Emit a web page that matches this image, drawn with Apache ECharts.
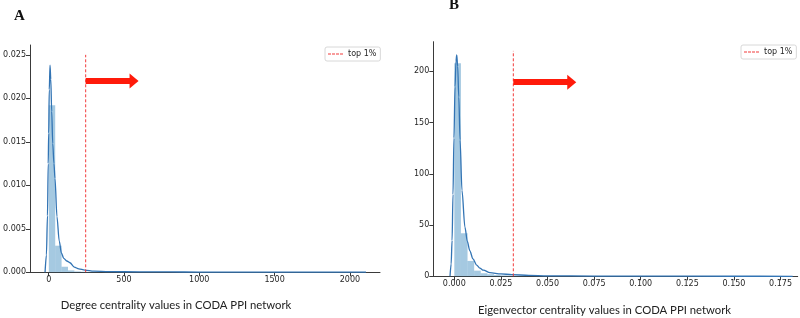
<!DOCTYPE html>
<html>
<head>
<meta charset="utf-8">
<script src="https://cdn.jsdelivr.net/npm/echarts@6/dist/echarts.min.js"></script>
<style>
  html, body { margin: 0; padding: 0; background: #fff; }
  #chart { width: 800px; height: 318px; }
</style>
</head>
<body>
<div id="chart"></div>
<script>
// panel A: degree centrality (density histogram + kde)
const degreeBinStart = 1;
const degreeBinWidth = 42.4;
const degreeHist = [0.0192, 0.00306, 0.00064, 0.00022, 0.0001, 0.00006, 0.00004, 0.00003, 0.00002, 0.00002,
    0.00001, 0.00001, 0.00001, 0.00001, 0.00001];
const degreeKdeX = [-24, -15, -8, -3, 0, 4, 9, 14, 20, 27, 35, 42, 55, 70, 85, 100, 120, 141, 170, 200, 240, 300, 400, 600, 800, 1000, 1500, 2000, 2107];
const degreeKdeY = [0, 0.002, 0.0065, 0.0125, 0.016, 0.021, 0.0238, 0.0222, 0.0185, 0.0148, 0.0125, 0.0108, 0.0064, 0.0036, 0.0022, 0.0016, 0.0013, 0.0011, 0.0006, 0.0004, 0.00026, 0.00014, 0.00008, 0.00005, 0.00004, 0.00003, 0.00002, 0.00002, 0.00001];
const degreeTop1 = 245.7;
const degreeTicks = [0, 500, 1000, 1500, 2000];

// panel B: eigenvector centrality
const eigenBinStart = 0;
const eigenBinWidth = 0.00355;
const eigenHist = [208, 42, 15, 5.5, 3, 2, 1.3, 0.9, 0.6, 0.4, 0.3, 0.2, 0.2, 0.1, 0.1];
const eigenKdeX = [-0.0023, -0.0017, -0.0012, -0.0007, -0.0002, 0.0004, 0.0009, 0.0013, 0.0018, 0.0024, 0.0031, 0.0041, 0.0057, 0.0070, 0.0083, 0.010, 0.012, 0.0137, 0.0156, 0.0191, 0.025, 0.0308, 0.04, 0.05, 0.075, 0.1, 0.15, 0.1815];
const eigenKdeY = [0, 12, 35, 80, 135, 185, 210, 216, 205, 175, 133, 84, 48, 34, 25, 17, 11, 8, 6, 3.5, 2.4, 1.6, 0.9, 0.5, 0.25, 0.12, 0.05, 0.02];
const eigenTop1 = 0.03165;
const eigenTicks = [0, 0.025, 0.05, 0.075, 0.1, 0.125, 0.15, 0.175];

// arrows: [x start, x end, y]
const arrowA = [245.7, 567, 0.022];
const arrowB = [0.03165, 0.0630, 189.5];

const legendText = 'top 1%';

function histData(start, width, vals) {
    return vals.map((v, i) => [start + i * width, start + (i + 1) * width, v]);
}
function zip(xs, ys) {
    return xs.map((x, i) => [x, ys[i]]);
}
function renderBin(params, api) {
    const p0 = api.coord([api.value(0), api.value(2)]);
    const p1 = api.coord([api.value(1), 0]);
    return {
        type: 'rect',
        shape: { x: p0[0], y: p0[1], width: p1[0] - p0[0], height: p1[1] - p0[1] },
        style: { fill: 'rgba(31,119,180,0.4)' }
    };
}

const axisColor = '#3a3a3a';
const cutRed = '#f23a3a';
const tickFont = { fontFamily: 'DejaVu Sans', fontSize: 8, color: '#262626' };
// four short dashes for the legend key
const dashIcon = 'path://M0,0h3v1h-3zM4,0h3v1h-3zM8,0h3v1h-3zM12,0h3v1h-3z';

function xAxisOpt(idx, min, max, ticks, fmt) {
    return {
        type: 'value', gridIndex: idx, min: min, max: max,
        axisLine: { onZero: false, lineStyle: { color: axisColor, width: 1 } },
        axisTick: { show: true, length: 4, customValues: ticks, lineStyle: { color: axisColor } },
        axisLabel: Object.assign({ customValues: ticks, margin: 4, formatter: fmt }, tickFont),
        splitLine: { show: false }
    };
}
function yAxisOpt(idx, max, interval, fmt) {
    return {
        type: 'value', gridIndex: idx, min: 0, max: max, interval: interval,
        axisLine: { show: true, onZero: false, lineStyle: { color: axisColor, width: 1 } },
        axisTick: { show: true, length: 4, lineStyle: { color: axisColor } },
        axisLabel: Object.assign({ margin: 4, formatter: fmt, showMaxLabel: false }, tickFont),
        splitLine: { show: false }
    };
}
function legendOpt(seriesName, left, top) {
    return {
        left: left, top: top, data: [seriesName], icon: dashIcon, itemWidth: 15, itemHeight: 1, itemGap: 5,
        formatter: () => legendText,
        itemStyle: { color: cutRed, borderWidth: 0 }, inactiveColor: cutRed,
        padding: [3, 4, 3, 3], backgroundColor: '#fff', borderColor: '#d8d8d8', borderWidth: 1, borderRadius: 2,
        textStyle: { fontFamily: 'DejaVu Sans', fontSize: 8, color: '#262626' }, selectedMode: false
    };
}
function arrowLine(arrow) {
    return {
        silent: true,
        symbol: ['none', 'triangle'],
        symbolSize: [15, 9],
        label: { show: false },
        lineStyle: { color: '#ff1a0a', width: 6, type: 'solid' },
        data: [[{ coord: [arrow[0], arrow[2]] }, { coord: [arrow[1], arrow[2]] }]]
    };
}

const chart = echarts.init(document.getElementById('chart'), null, { renderer: 'canvas' });

const option = {
    animation: false,
    backgroundColor: '#fff',
    grid: [
        { left: 30, top: 45, width: 350, bottom: 45.7 },
        { left: 433.3, top: 41.7, right: 2.3, bottom: 41.7 }
    ],
    xAxis: [
        xAxisOpt(0, -124, 2200, degreeTicks, v => String(v)),
        xAxisOpt(1, -0.01127, 0.1842, eigenTicks, v => v.toFixed(3))
    ],
    yAxis: [
        yAxisOpt(0, 0.02613, 0.005, v => v.toFixed(3)),
        yAxisOpt(1, 229, 50, v => String(v))
    ],
    legend: [legendOpt('cutA', 325, 47), legendOpt('cutB', 741, 45)],
    series: [
        {
            type: 'custom', xAxisIndex: 0, yAxisIndex: 0, silent: true,
            renderItem: renderBin, data: histData(degreeBinStart, degreeBinWidth, degreeHist), z: 1
        },
        {
            type: 'line', xAxisIndex: 0, yAxisIndex: 0, data: zip(degreeKdeX, degreeKdeY),
            symbol: 'none', smooth: 0.3, smoothMonotone: 'x', silent: true,
            lineStyle: { color: '#3274b4', width: 1.3 }, z: 3
        },
        {
            name: 'cutA', type: 'line', xAxisIndex: 0, yAxisIndex: 0,
            data: [[degreeTop1, 0], [degreeTop1, 0.025]], symbol: 'none', silent: true,
            lineStyle: { color: cutRed, width: 1, type: [3, 2] }, itemStyle: { color: cutRed }, z: 4,
            markLine: arrowLine(arrowA)
        },
        {
            type: 'custom', xAxisIndex: 1, yAxisIndex: 1, silent: true,
            renderItem: renderBin, data: histData(eigenBinStart, eigenBinWidth, eigenHist), z: 1
        },
        {
            type: 'line', xAxisIndex: 1, yAxisIndex: 1, data: zip(eigenKdeX, eigenKdeY),
            symbol: 'none', smooth: 0.3, smoothMonotone: 'x', silent: true,
            lineStyle: { color: '#3274b4', width: 1.3 }, z: 3
        },
        {
            name: 'cutB', type: 'line', xAxisIndex: 1, yAxisIndex: 1,
            data: [[eigenTop1, 0], [eigenTop1, 220]], symbol: 'none', silent: true,
            lineStyle: { color: cutRed, width: 1, type: [3, 2] }, itemStyle: { color: cutRed }, z: 4,
            markLine: arrowLine(arrowB)
        }
    ],
    graphic: [
        {
            type: 'text', left: 14, top: 9,
            style: { text: 'A', font: 'bold 15px "Liberation Serif"', fill: '#111' }
        },
        {
            type: 'text', left: 449, top: -2,
            style: { text: 'B', font: 'bold 15px "Liberation Serif"', fill: '#111' }
        },
        {
            type: 'text', x: 176, y: 305,
            style: {
                text: 'Degree centrality values in CODA PPI network', font: '11.3px "Lato"',
                fill: '#222', align: 'center', verticalAlign: 'middle'
            }
        },
        {
            type: 'text', x: 604.5, y: 310,
            style: {
                text: 'Eigenvector centrality values in CODA PPI network', font: '11.3px "Lato"',
                fill: '#222', align: 'center', verticalAlign: 'middle'
            }
        }
    ]
};

chart.setOption(option);
</script>
</body>
</html>
